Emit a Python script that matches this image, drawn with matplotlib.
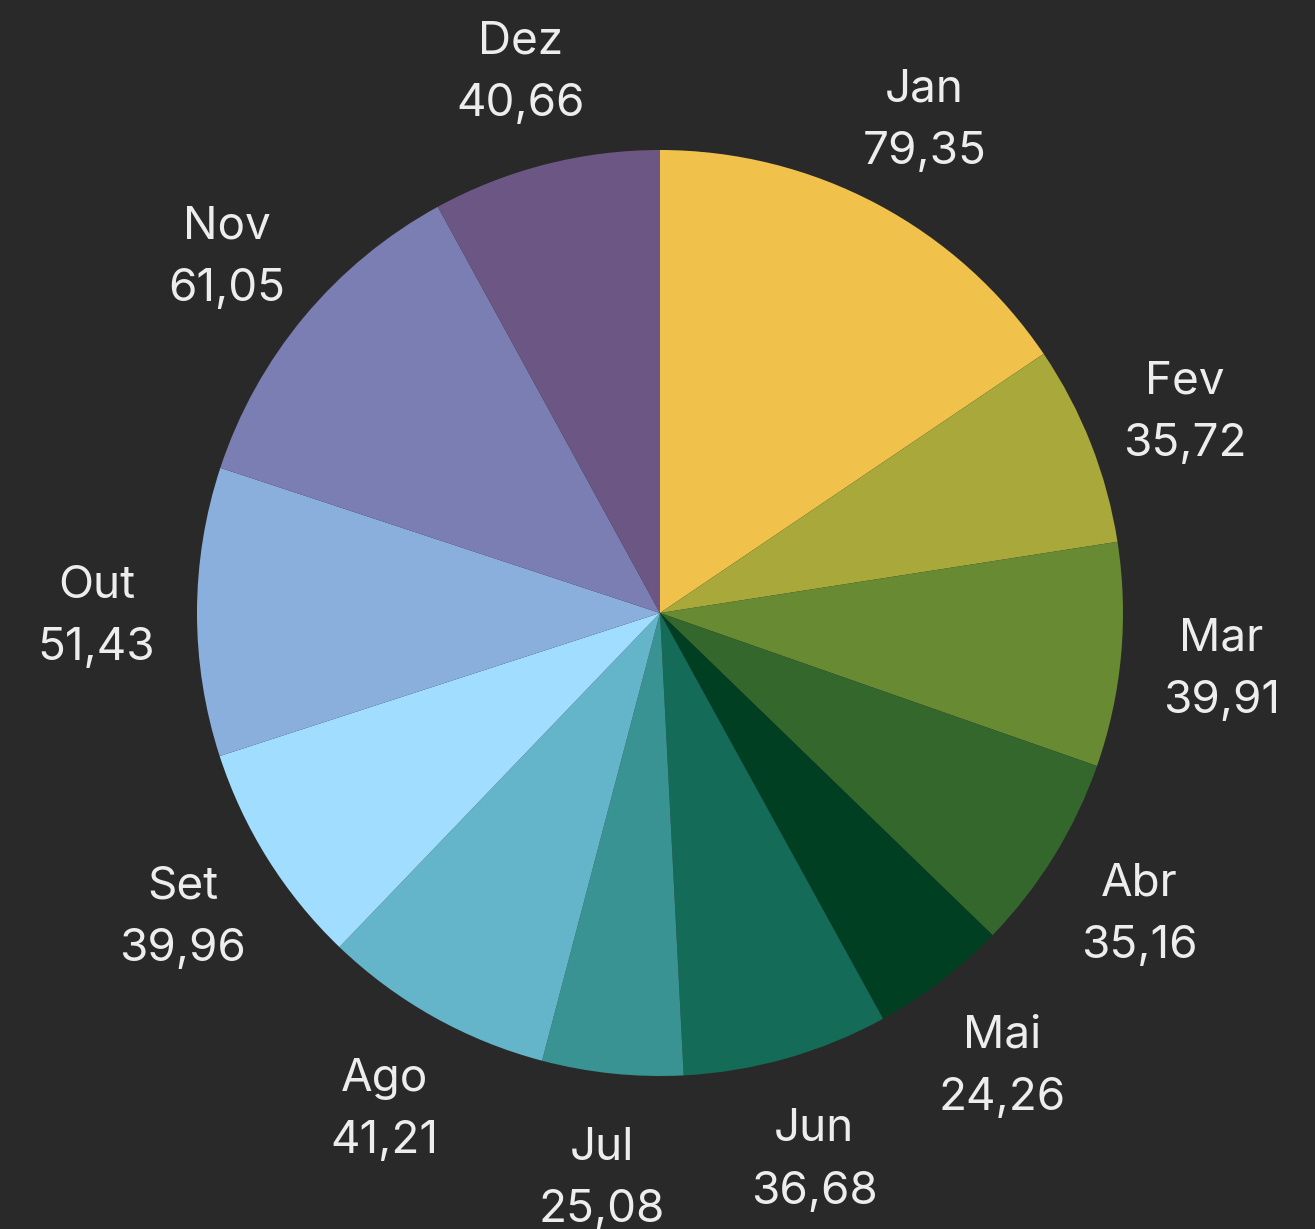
import numpy as np
import matplotlib.pyplot as plt

meses = ["Jan", "Fev", "Mar", "Abr", "Mai", "Jun", "Jul", "Ago", "Set", "Out", "Nov", "Dez"]
valores = [79.35, 35.72, 39.91, 35.16, 24.26, 36.68, 25.08, 41.21, 39.96, 51.43, 61.05, 40.66]
cores = ["#F0C24C", "#A9A83A", "#688A32", "#33672C", "#003F22", "#136B58",
         "#389392", "#65B5CA", "#A0DDFF", "#8BAFDC", "#7B7EB2", "#6C5784"]

bg = "#292929"
plt.rcParams['font.family'] = ['Inter', 'DejaVu Sans']

fig = plt.figure(figsize=(13.15, 12.29), dpi=100, facecolor=bg)
ax = fig.add_axes([0, 0, 1, 1])
ax.set_facecolor(bg)

rotulos = [m + "\n" + f"{v:.2f}".replace(".", ",") for m, v in zip(meses, valores)]

wedges, texts = ax.pie(valores, colors=cores, startangle=90, counterclock=False,
                       labels=rotulos, labeldistance=1.217, radius=1.0,
                       textprops=dict(color="#EDEDED", fontsize=33, linespacing=1.62))

# 1 unit = 463 px, center at (660, 613) from top-left
r = 463.0
for t in texts:
    t.set_ha("center")
    t.set_va("center")
    t.set_y(t.get_position()[1] - 5.5 / r)

ax.set_xlim(-660 / r, (1315 - 660) / r)
ax.set_ylim(-(1229 - 613) / r, 613 / r)
ax.set_aspect("auto")
ax.axis("off")

fig.savefig("out.png", dpi=100, facecolor=bg)
